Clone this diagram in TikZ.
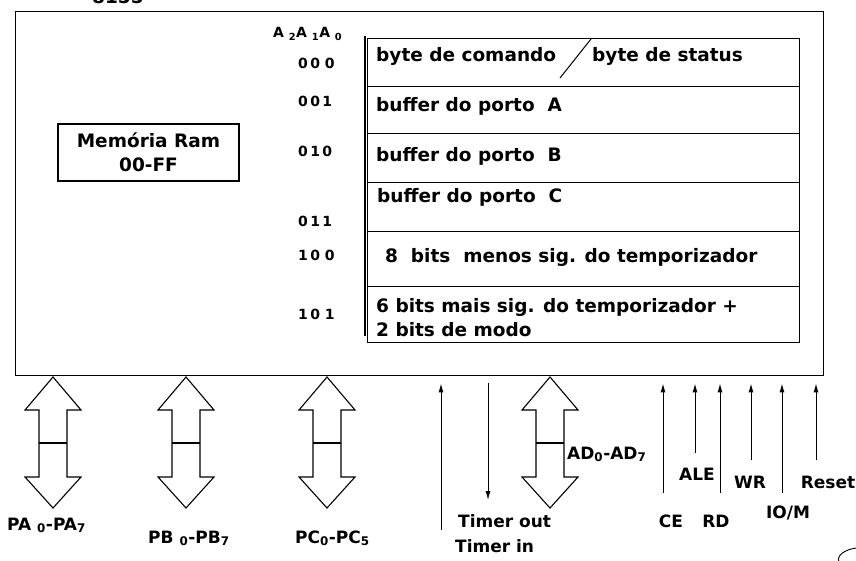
\documentclass[tikz,border=0pt]{standalone}
\usepackage{fontspec}
\setmainfont{DejaVu Sans}
\usetikzlibrary{arrows.meta,positioning,calc}
\newcommand\tabfont{\fontsize{18.5}{24}\selectfont\bfseries}
\newcommand\lblfont{\fontsize{17}{20}\selectfont\bfseries}
\newcommand\codefont{\fontsize{14}{16}\selectfont\bfseries}
\tikzset{
  chipbox/.style={draw,line width=1.4pt,minimum width=808,minimum height=364,
              inner sep=0pt,anchor=north west},
  ram/.style={draw,line width=1.2pt,minimum width=181,minimum height=57,
              inner sep=0pt,align=center,font=\tabfont},
  cell/.style={draw,line width=1.2pt,minimum width=432,inner sep=0pt,anchor=north west},
  txt/.style={anchor=base west,inner sep=0pt,font=\tabfont},
  code/.style={anchor=base west,inner sep=0pt,font=\codefont},
  lbl/.style={anchor=base west,inner sep=0pt,font=\lblfont},
  siglbl/.style={anchor=base,inner sep=0pt,font=\lblfont},
  bus/.style={draw,line width=1.1pt,fill=white,line join=miter},
  bar/.style={line width=2.6pt},
  sig/.style={-{Latex[length=9pt,width=5pt]},line width=1pt,shorten >=7pt},
  sigout/.style={-{Latex[length=9pt,width=5pt]},line width=1pt,shorten <=7pt},
}

\begin{document}
\begin{tikzpicture}[x=1pt,y=-1pt]
  \useasboundingbox (0,0) rectangle (856,561);
  \node[chipbox] (chip) at (15,11) {};
  \node[txt] (name) at (92,4) {8155};
  \node[ram] (ram) at (148.5,152.5) {Memória Ram\\00-FF};

  \foreach \t/\b [count=\i from 0] in {38/86,86/133,133/182,182/231,231/286,286/342}
    \node[cell,minimum height={\b-\t}] (r\i) at (367,\t) {};
  \draw[line width=1.2pt] (365,36) -- (365,336);

  \node[txt] (t0) at (376,62) {byte de comando};
  \node[txt] (t0b) at (592,62) {byte de status};
  \draw[line width=1pt] (560,78) -- (591,39);
  \node[txt] (t1) at (376,112) {buffer do porto\ \ A};
  \node[txt] (t2) at (376,162) {buffer do porto\ \ B};
  \node[txt] (t3) at (377,203) {buffer do porto\ \ C};
  \node[txt] (t4) at (385,262) {8\ \ bits\ \ menos sig. do temporizador};
  \node[txt] (t5) at (376,312) {6 bits mais sig. do temporizador +};
  \node[txt] (t6) at (376,336) {2 bits de modo};

  \node[code] (addr) at (273,38) {A \textsubscript{2}A \textsubscript{1}A \textsubscript{0}};
  \node[code] (c0) at (298,69) {0\,0 0};
  \node[code] (c1) at (298,107) {0\,0\,1};
  \node[code] (c2) at (298,157) {0\,1\,0};
  \node[code] (c3) at (298,227) {0\,1\,1};
  \node[code] (c4) at (298,261) {1\,0 0};
  \node[code] (c5) at (298,319) {1\,0 1};

  \foreach \n/\x in {pa/53,pb/186,pc/327,ad/550}{
    \coordinate (\n) at (\x,377);
    \draw[bus] (\n) -- ++(28,33) -- ++(-14,0) -- ++(0,67) -- ++(14,0) -- ++(-28,31)
      -- ++(-28,-31) -- ++(14,0) -- ++(0,-67) -- ++(-14,0) -- cycle;
    \draw[bar] ($(\n)+(-14,66)$) -- ++(28,0);
  }
  \node[lbl] (lpa) at (7,530) {PA \textsubscript{0}-PA\textsubscript{7}};
  \node[lbl] (lpb) at (148,543) {PB \textsubscript{0}-PB\textsubscript{7}};
  \node[lbl] (lpc) at (295,543) {PC\textsubscript{0}-PC\textsubscript{5}};
  \node[lbl] (lad) at (567,459) {AD\textsubscript{0}-AD\textsubscript{7}};

  \foreach \n/\x/\y in {tin/441/530,ce/663/493,ale/695/453,rd/720/493,wr/751/460,iom/782/493,rst/816/460}{
    \coordinate (\n) at (\x,\y);
    \draw[sig] (\n) -- (\n |- chip.south);
  }
  \coordinate (tout) at (488,500);
  \draw[sigout] (tout |- chip.south) -- (tout);

  \node[lbl] (ltin) at (455,552) {Timer in};
  \node[lbl] (ltout) at (458,527) {Timer out};
  \node[siglbl] (lce) at (671,527) {CE};
  \node[siglbl] (lale) at (697,480) {ALE};
  \node[siglbl] (lrd) at (716,527) {RD};
  \node[siglbl] (lwr) at (750,488) {WR};
  \node[siglbl] (liom) at (788,518) {IO/M};
  \node[siglbl] (lrst) at (828,488) {Reset};

  \draw[line width=0.9pt] (857,548) .. controls (846,549) and (836,555) .. (839,562);
\end{tikzpicture}
\end{document}
